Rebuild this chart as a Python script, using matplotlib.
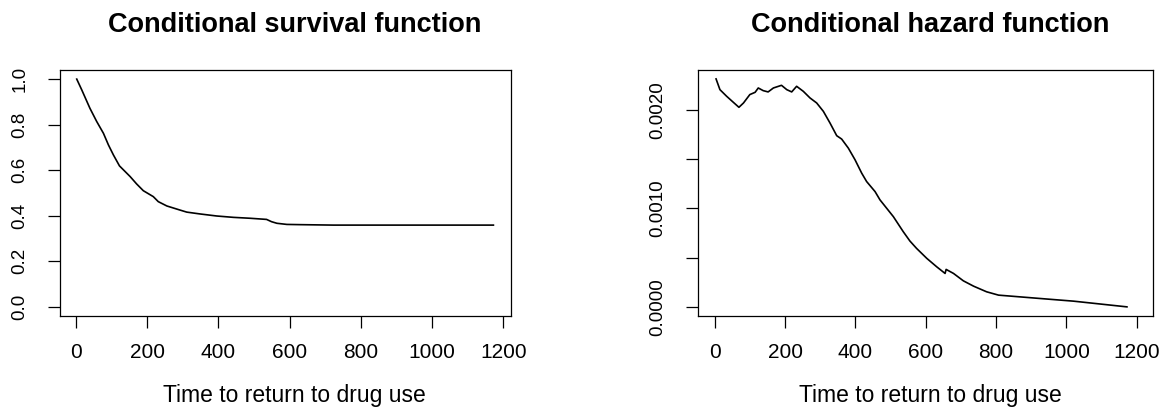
import numpy as np
import matplotlib
matplotlib.use("Agg")
import matplotlib.pyplot as plt

# Conditional survival curve
surv_time = [2, 16, 39, 58, 77, 91, 105, 122, 152, 170, 189, 217, 231, 255,
             292, 311, 348, 395, 442, 489, 535, 549, 564, 592, 629, 723, 1172]
surv_prob = [1.0, 0.953, 0.872, 0.814, 0.762, 0.711, 0.667, 0.619, 0.572,
             0.540, 0.510, 0.484, 0.462, 0.443, 0.425, 0.416, 0.408, 0.399,
             0.393, 0.389, 0.384, 0.374, 0.367, 0.362, 0.361, 0.359, 0.359]

# Conditional hazard curve
haz_time = [4, 15, 34, 53, 69, 82, 100, 115, 124, 138, 152, 167, 190, 205,
            219, 233, 252, 271, 290, 309, 328, 347, 361, 380, 399, 418, 432,
            456, 470, 489, 508, 536, 555, 574, 603, 631, 655, 658, 679, 707,
            736, 773, 807, 925, 1020, 1172]
haz_rate = [0.002312, 0.002203, 0.002136, 0.002075, 0.002024, 0.002068,
            0.002153, 0.002176, 0.00222, 0.002193, 0.00218, 0.00222,
            0.002247, 0.002203, 0.00218, 0.002237, 0.002186, 0.002119,
            0.002068, 0.001983, 0.001864, 0.001736, 0.001702, 0.00161,
            0.001492, 0.001356, 0.001271, 0.001169, 0.001085, 0.001,
            0.000915, 0.000763, 0.000668, 0.000593, 0.000492, 0.000407,
            0.000339, 0.00038, 0.000339, 0.000264, 0.00021, 0.000153,
            0.000119, 0.000085, 0.000058, 0.0]

x_ticks = [0, 200, 400, 600, 800, 1000, 1200]
surv_yticks = [0.0, 0.2, 0.4, 0.6, 0.8, 1.0]
haz_yticks = [0.0, 0.0005, 0.0010, 0.0015, 0.0020]
haz_ylabels = ["0.0000", "", "0.0010", "", "0.0020"]

xlabel = "Time to return to drug use"

plt.rcParams['font.family'] = ['Liberation Sans', 'DejaVu Sans']


def style_axes(ax):
    ax.tick_params(axis='both', length=8.6, width=0.9, color='black')
    ax.tick_params(axis='x', pad=11, labelsize=15)
    ax.tick_params(axis='y', pad=14, labelsize=13.5)
    for sp in ax.spines.values():
        sp.set_linewidth(0.9)
    for lab in ax.get_yticklabels():
        lab.set_rotation(90)
        lab.set_va('center')


def main():
    fig = plt.figure(figsize=(11.74, 4.09), dpi=100)

    ax1 = fig.add_axes([0.0511, 0.2274, 0.3842, 0.6015])
    ax1.plot(surv_time, surv_prob, color='black', lw=1.2)
    ax1.set_xlim(-45, 1221.5)
    ax1.set_ylim(-0.04, 1.04)
    ax1.set_xticks(x_ticks)
    ax1.set_yticks(surv_yticks)
    ax1.set_yticklabels([f"{v:.1f}" for v in surv_yticks])
    style_axes(ax1)
    ax1.set_title("Conditional survival function", fontsize=19.5,
                  fontweight='bold', x=0.52, pad=27)
    ax1.set_xlabel(xlabel, fontsize=16.5, labelpad=16, x=0.52)

    ax2 = fig.add_axes([0.5945, 0.2274, 0.3876, 0.6015])
    ax2.plot(haz_time, haz_rate, color='black', lw=1.2)
    ax2.set_xlim(-47.5, 1246)
    ax2.set_ylim(-0.0000925, 0.0024025)
    ax2.set_xticks(x_ticks)
    ax2.set_yticks(haz_yticks)
    ax2.set_yticklabels(haz_ylabels)
    style_axes(ax2)
    ax2.set_title("Conditional hazard function", fontsize=19.5,
                  fontweight='bold', x=0.51, pad=27)
    ax2.set_xlabel(xlabel, fontsize=16.5, labelpad=16, x=0.51)

    fig.savefig("out.png", dpi=100)


if __name__ == "__main__":
    main()
